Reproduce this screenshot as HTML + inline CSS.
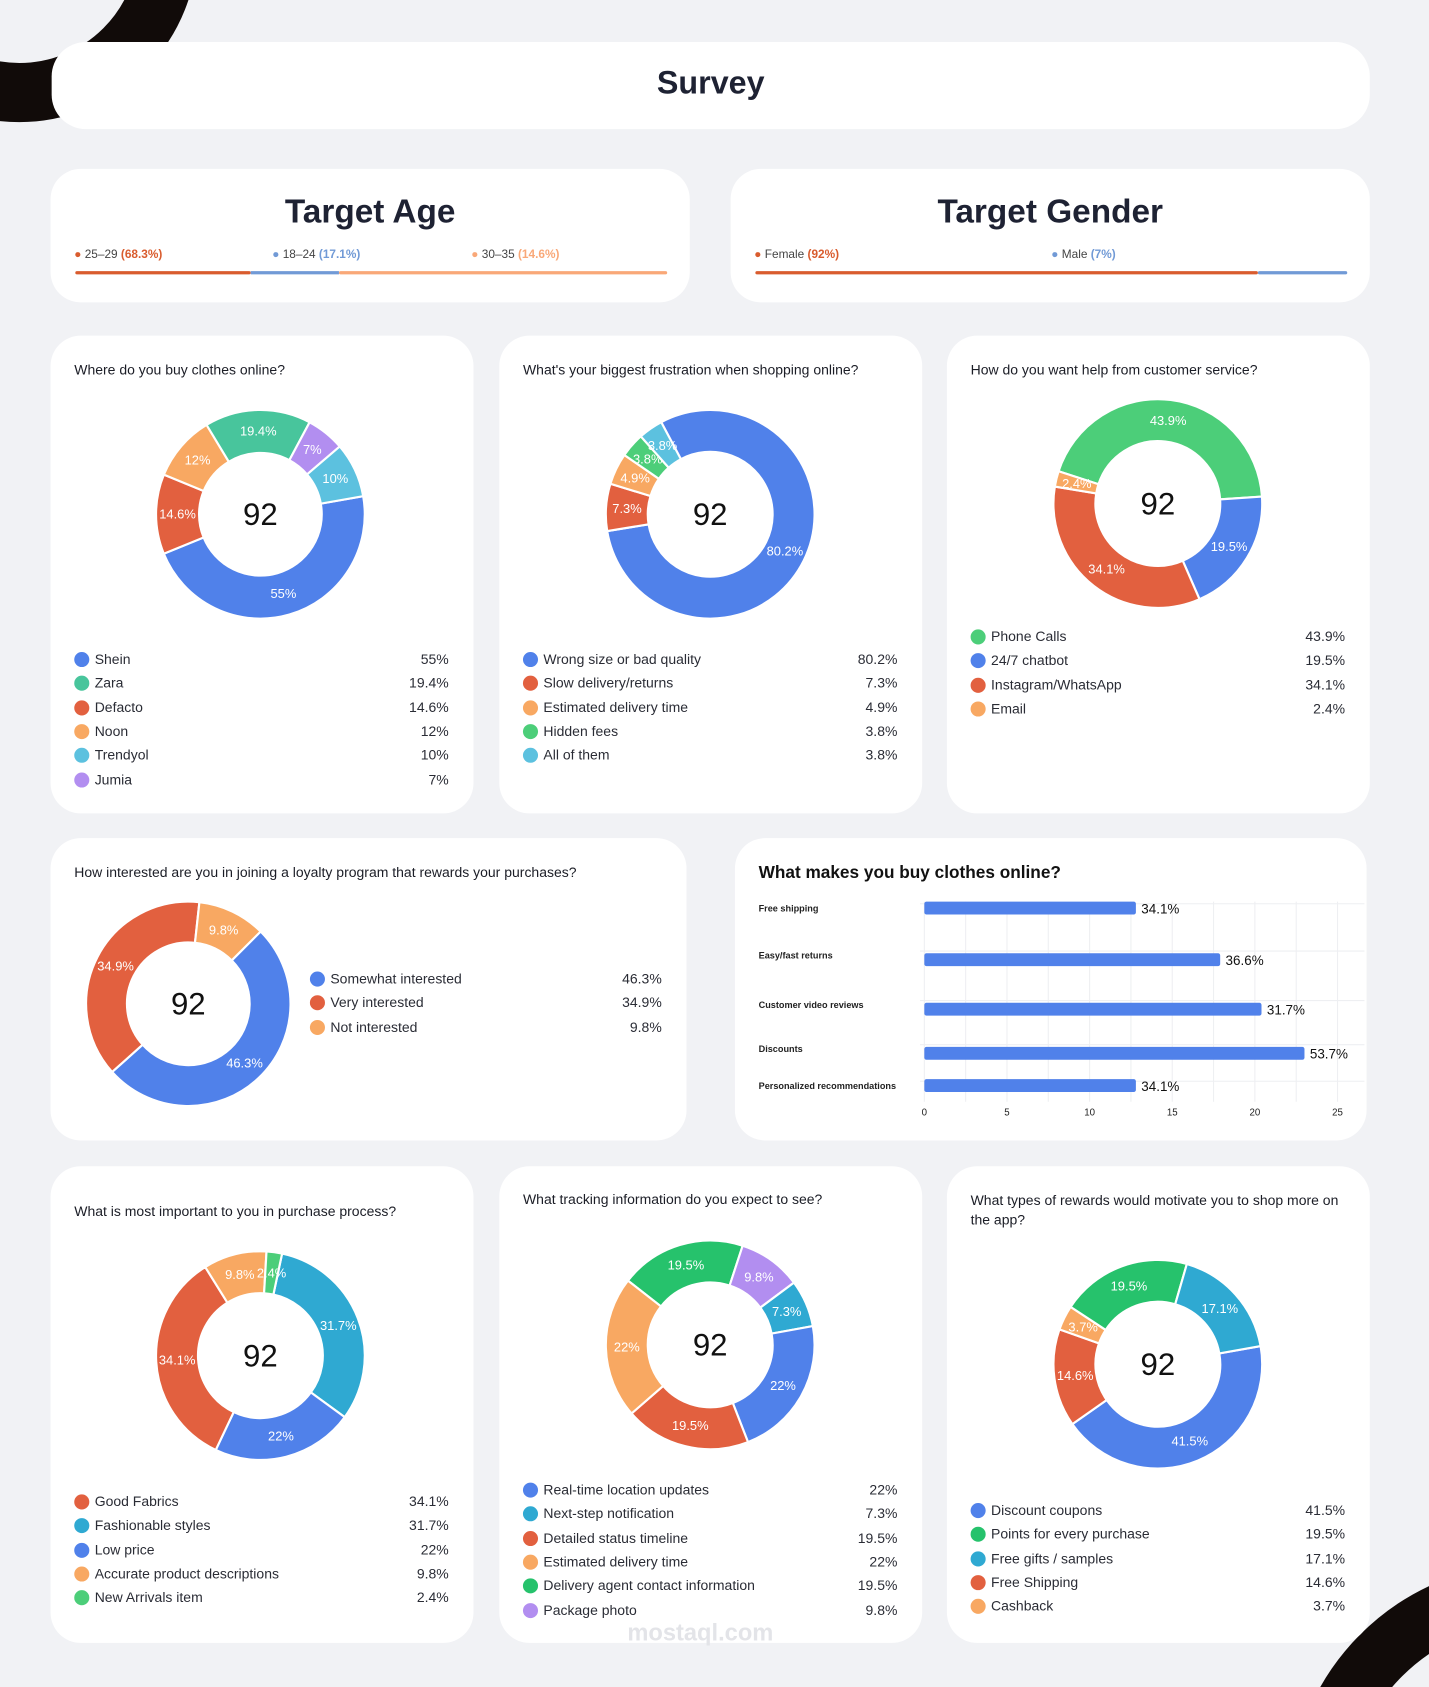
<!DOCTYPE html>
<html><head><meta charset="utf-8">
<style>
html,body{margin:0;padding:0;width:1429px;height:1687px;overflow:hidden;background:#f1f2f5;font-family:"Liberation Sans",sans-serif;}
#wrap{position:absolute;left:0;top:0;width:1328px;height:1568px;overflow:hidden;transform:scale(1.07605,1.07589);transform-origin:0 0;background:#f1f2f5;}
.card{position:absolute;background:#fff;border-radius:28px;}
.abs{position:absolute;}
.q{position:absolute;font-size:13px;color:#1b1d26;}
.leg{position:absolute;font-size:13px;color:#2a2c35;height:22px;line-height:22px;}
.leg .d{position:absolute;left:0;top:4px;width:14px;height:14px;border-radius:50%;}
.leg .t{position:absolute;left:19px;white-space:nowrap;}
.leg .v{position:absolute;right:0;}
svg text{font-family:"Liberation Sans",sans-serif;}
</style></head><body>
<div id="wrap">
<svg class="abs" style="left:0;top:0" width="1328" height="1568">
<circle cx="18" cy="-52" r="138" fill="none" stroke="#110b09" stroke-width="55"/>
<circle cx="1425" cy="1680" r="200" fill="none" stroke="#110b09" stroke-width="55"/>
</svg>
<div class="card" style="left:48px;top:39px;width:1225px;height:81px;border-radius:32px">
<div class="abs" style="left:0;right:0;top:22px;text-align:center;font-size:30px;font-weight:bold;color:#1e2233">Survey</div></div>

<div class="card" style="left:47px;top:157px;width:594px;height:124px">
<div class="abs" style="left:0;right:0;top:22px;text-align:center;font-size:31px;font-weight:bold;color:#1e2233">Target Age</div>
<div class="abs" style="left:22px;top:74px;font-size:11px;color:#444"><span style="color:#d95c2e">●</span> 25–29 <b style="color:#d95c2e">(68.3%)</b></div>
<div class="abs" style="left:206px;top:74px;font-size:11px;color:#444"><span style="color:#719ad6">●</span> 18–24 <b style="color:#719ad6">(17.1%)</b></div>
<div class="abs" style="left:391px;top:74px;font-size:11px;color:#444"><span style="color:#f9a878">●</span> 30–35 <b style="color:#f9a878">(14.6%)</b></div>
<div class="abs" style="left:23px;top:95px;width:163px;height:3px;background:#d95c2e;border-radius:2px"></div>
<div class="abs" style="left:186px;top:95px;width:82px;height:3px;background:#719ad6"></div>
<div class="abs" style="left:268px;top:95px;width:305px;height:3px;background:#f9a878;border-radius:2px"></div>
</div>
<div class="card" style="left:679px;top:157px;width:594px;height:124px">
<div class="abs" style="left:0;right:0;top:22px;text-align:center;font-size:31px;font-weight:bold;color:#1e2233">Target Gender</div>
<div class="abs" style="left:22px;top:74px;font-size:11px;color:#444"><span style="color:#d95c2e">●</span> Female <b style="color:#d95c2e">(92%)</b></div>
<div class="abs" style="left:298px;top:74px;font-size:11px;color:#444"><span style="color:#719ad6">●</span> Male <b style="color:#719ad6">(7%)</b></div>
<div class="abs" style="left:23px;top:95px;width:467px;height:3px;background:#d95c2e;border-radius:2px"></div>
<div class="abs" style="left:490px;top:95px;width:83px;height:3px;background:#719ad6;border-radius:2px"></div>
</div>

<div class="card" style="left:47px;top:312px;width:393px;height:444px"><div class="q" style="left:22px;top:24px">Where do you buy clothes online?</div></div>
<div class="card" style="left:464px;top:312px;width:393px;height:444px"><div class="q" style="left:22px;top:24px">What's your biggest frustration when shopping online?</div></div>
<div class="card" style="left:880px;top:312px;width:393px;height:444px"><div class="q" style="left:22px;top:24px">How do you want help from customer service?</div></div>
<div class="card" style="left:47px;top:779px;width:591px;height:281px"><div class="q" style="left:22px;top:24px">How interested are you in joining a loyalty program that rewards your purchases?</div></div>
<div class="card" style="left:683px;top:779px;width:587px;height:281px"><div class="abs" style="left:22px;top:24px;font-size:16px;font-weight:bold;color:#111">What makes you buy clothes online?</div></div>
<div class="card" style="left:47px;top:1084px;width:393px;height:443px"><div class="q" style="left:22px;top:34px">What is most important to you in purchase process?</div></div>
<div class="card" style="left:464px;top:1084px;width:393px;height:443px"><div class="q" style="left:22px;top:23px">What tracking information do you expect to see?</div></div>
<div class="card" style="left:880px;top:1084px;width:393px;height:443px"><div class="q" style="left:22px;top:23px;width:350px;line-height:18px">What types of rewards would motivate you to shop more on the app?</div></div>

<svg id="charts" class="abs" style="left:0;top:0" width="1328" height="1568"></svg>
<div class="abs" style="left:583px;top:1505px;font-size:22px;color:#e3e4e8;font-weight:bold">mostaql.com</div>
</div>
<script>
// Chart 1
const c1Labels=["Shein","Zara","Defacto","Noon","Trendyol","Jumia"];
const c1Values=[55,19.4,14.6,12,10,7];
const c1Order=[0,2,3,1,5,4];
// Chart 2
const c2Labels=["Wrong size or bad quality","Slow delivery/returns","Estimated delivery time","Hidden fees","All of them"];
const c2Values=[80.2,7.3,4.9,3.8,3.8];
const c2Order=[0,1,2,3,4];
// Chart 3
const c3Labels=["Phone Calls","24/7 chatbot","Instagram/WhatsApp","Email"];
const c3Values=[43.9,19.5,34.1,2.4];
const c3Order=[0,1,2,3];
// Chart 4
const c4Labels=["Somewhat interested","Very interested","Not interested"];
const c4Values=[46.3,34.9,9.8];
const c4Order=[0,1,2];
// Chart 5
const c5Labels=["Good Fabrics","Fashionable styles","Low price","Accurate product descriptions","New Arrivals item"];
const c5Values=[34.1,31.7,22,9.8,2.4];
const c5Order=[1,2,0,3,4];
// Chart 6
const c6Labels=["Real-time location updates","Next-step notification","Detailed status timeline","Estimated delivery time","Delivery agent contact information","Package photo"];
const c6Values=[22,7.3,19.5,22,19.5,9.8];
const c6Order=[4,5,1,0,2,3];
// Chart 7
const c7Labels=["Discount coupons","Points for every purchase","Free gifts / samples","Free Shipping","Cashback"];
const c7Values=[41.5,19.5,17.1,14.6,3.7];
const c7Order=[0,3,4,1,2];
// Bar chart
const barCats=["Free shipping","Easy/fast returns","Customer video reviews","Discounts","Personalized recommendations"];
const barValues=[12.8,17.9,20.4,23,12.8];
const barLabels=["34.1%","36.6%","31.7%","53.7%","34.1%"];
const barTicks=[0,5,10,15,20,25];

const NS="http://www.w3.org/2000/svg";
const svg=document.getElementById('charts');
const B="#5081ea",G="#4cce79",R="#e2603f",O="#f8a862",C="#5cc1df",P="#b28ef0",T="#48c59c",G2="#26c26c",C2="#2fa9d2";
function el(tag,attrs,parent){const e=document.createElementNS(NS,tag);for(const k in attrs)e.setAttribute(k,attrs[k]);(parent||svg).appendChild(e);return e;}
function pt(cx,cy,r,a){const t=a*Math.PI/180;return [cx+r*Math.sin(t),cy-r*Math.cos(t)];}
function donut(name,labels,values,colors,order,start,cx,cy,Ro,Ri,lx,ly,lw,lstep){
  const g=el('g',{});
  
  
  const sum=values.reduce((a,b)=>a+b,0);
  let a=start;
  order.forEach(i=>{
    const span=values[i]/sum*360;const a2=a+span;
    const p1=pt(cx,cy,Ro,a),p2=pt(cx,cy,Ro,a2),p3=pt(cx,cy,Ri,a2),p4=pt(cx,cy,Ri,a);const lg=span>180?1:0;
    const s=el('path',{d:`M${p1}A${Ro},${Ro} 0 ${lg} 1 ${p2}L${p3}A${Ri},${Ri} 0 ${lg} 0 ${p4}Z`,fill:colors[i],stroke:'#fff','stroke-width':2},g);
    
    
    const m=pt(cx,cy,(Ro+Ri)/2,a+span/2);
    const t=el('text',{x:m[0],y:m[1]+4,'text-anchor':'middle','font-size':12,fill:'#fff'},g);
    t.textContent=values[i]+'%';
    
    
    a=a2;
  });
  const c=el('text',{x:cx,y:cy+10,'text-anchor':'middle','font-size':29,fill:'#111'},g);
  c.textContent='92';
  
  
  const wrap=document.getElementById('wrap');
  labels.forEach((l,i)=>{
    const d=document.createElement('div');d.className='leg';
    d.style.left=lx+'px';d.style.top=(ly+i*lstep)+'px';d.style.width=lw+'px';
    d.innerHTML=`<span class="d" style="background:${colors[i]}"></span><span class="t">${l}</span><span class="v">${values[i]}%</span>`;
    
    
    wrap.appendChild(d);
  });
}
donut('where-buy',c1Labels,c1Values,[B,T,R,O,C,P],c1Order,80,242,478,97,57,69,602,348,22.3);
donut('frustration',c2Labels,c2Values,[B,R,O,G,C],c2Order,-28,660,478,97,58,486,602,348,22.3);
donut('customer-service',c3Labels,c3Values,[G,B,R,O],c3Order,-72,1076,468,97,58,902,581,348,22.3);
donut('loyalty',c4Labels,c4Values,[B,R,O],c4Order,45,175,933,95,57,288,899,327,22.3);
donut('purchase-process',c5Labels,c5Values,[R,C2,B,O,G],c5Order,12,242,1260,97,58,69,1385,348,22.3);
donut('tracking',c6Labels,c6Values,[B,C2,R,O,G2,P],c6Order,-52,660,1250,97,58,486,1374,348,22.3);
donut('rewards',c7Labels,c7Values,[B,G2,C2,R,O],c7Order,80,1076,1268,97,58,902,1393,348,22.3);

// bar chart
const x0=859,x1=1243,xMax=25;
const xs=v=>x0+(x1-x0)*v/xMax;
const barY=[844,888,934,975,1009];
const bg=el('g',{});


for(let v=0;v<=xMax;v+=2.5){
  const l=el('line',{x1:xs(v),x2:xs(v),y1:838,y2:1024,stroke:'#eeeff2','stroke-width':1},bg);
  
  
}
barTicks.forEach(v=>{
  const t=el('text',{x:xs(v),y:1037,'text-anchor':'middle','font-size':9,fill:'#222'},bg);
  t.textContent=v;
  
  
});
barCats.forEach((c,i)=>{
  const y=barY[i];
  const gl=el('line',{x1:855,x2:1268,y1:y-4,y2:y-4,stroke:'#eeeff2'},bg);
  
  
  const t=el('text',{x:705,y:y+3,'font-size':8.5,'font-weight':'bold',fill:'#222'},bg);
  t.textContent=c;
  
  
  const r=el('rect',{x:x0,y:y-6+(i==0?0:4)-(i==4?4:0),width:xs(barValues[i])-x0,height:12,rx:2,fill:'#5081ea'},bg);
  
  
  const vl=el('text',{x:xs(barValues[i])+5,y:+r.getAttribute('y')+11,'font-size':12.5,fill:'#111'},bg);
  vl.textContent=barLabels[i];
  
  
});
</script>
</body></html>
